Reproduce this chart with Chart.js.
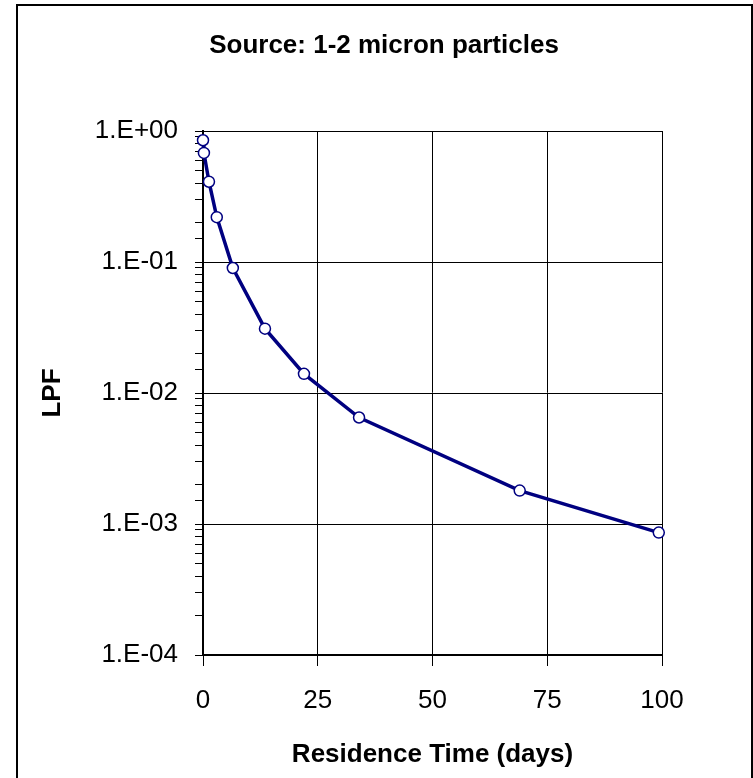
<!DOCTYPE html>
<html>
<head>
<meta charset="utf-8">
<script src="https://cdn.jsdelivr.net/npm/chart.js@4/dist/chart.umd.min.js"></script>
<style>
  html, body { margin: 0; padding: 0; background: #fff; }
  #wrap { position: relative; width: 753px; height: 778px; overflow: hidden; }
  #frame { position: absolute; left: 16px; top: 4px; width: 737px; height: 800px; box-sizing: border-box; border: 2px solid #000; pointer-events: none; }
  canvas { position: absolute; left: 0; top: 0; }
</style>
</head>
<body>
<div id="wrap">
  <canvas id="c" width="753" height="778"></canvas>
  <div id="frame"></div>
</div>
<script>
const chartTitle = "Source: 1-2 micron particles";
const xAxisTitle = "Residence Time (days)";
const yAxisTitle = "LPF";
const residenceDays = [0, 0.2, 1.3, 3, 6.5, 13.5, 22, 34, 69, 99.3];
const lpfValues = [0.85, 0.68, 0.41, 0.22, 0.09, 0.031, 0.014, 0.0065, 0.0018, 0.00086];
const xTicks = [0, 25, 50, 75, 100];
const yDecades = [1e-4, 1e-3, 1e-2, 1e-1, 1];

const FONT = "'Liberation Sans', Arial, sans-serif";

function isDecade(v) {
  const e = Math.round(Math.log10(v));
  return Math.abs(v / Math.pow(10, e) - 1) < 1e-6;
}
function sciLabel(v) {
  const e = Math.round(Math.log10(v));
  const s = e < 0 ? '-' : '+';
  const a = Math.abs(e);
  return '1.E' + s + (a < 10 ? '0' : '') + a;
}

const titlePlugin = {
  id: 'customTitle',
  afterDraw(chart) {
    const ctx = chart.ctx;
    ctx.save();
    ctx.font = 'bold 26px ' + FONT;
    ctx.fillStyle = '#000';
    ctx.textAlign = 'center';
    ctx.textBaseline = 'middle';
    ctx.fillText(chartTitle, 384, 46);
    ctx.restore();
  }
};

const points = residenceDays.map((x, i) => ({ x: x, y: lpfValues[i] }));

new Chart(document.getElementById('c'), {
  type: 'scatter',
  data: {
    datasets: [{
      data: points,
      showLine: true,
      borderColor: '#000080',
      borderWidth: 3.5,
      backgroundColor: '#ffffff',
      pointBackgroundColor: '#ffffff',
      pointBorderColor: '#000080',
      pointBorderWidth: 1.5,
      pointRadius: 5.5,
      tension: 0,
      clip: false
    }]
  },
  options: {
    responsive: false,
    animation: false,
    devicePixelRatio: 1,
    layout: { padding: { top: 131, left: 17, right: 91, bottom: 0 } },
    plugins: { legend: { display: false }, title: { display: false }, tooltip: { enabled: false } },
    scales: {
      x: {
        type: 'linear',
        min: 0, max: 100,
        afterBuildTicks(scale) { scale.ticks = xTicks.map(v => ({ value: v })); },
        afterFit(scale) { scale.height = 123; },
        ticks: {
          color: '#000',
          font: { family: FONT, size: 26 },
          padding: 19,
          maxRotation: 0,
          autoSkip: false
        },
        grid: { color: '#000', lineWidth: 1, tickLength: 11, tickColor: '#000', tickWidth: 1 },
        border: { color: '#000', width: 2 },
        title: {
          display: true, text: xAxisTitle, color: '#000',
          font: { family: FONT, size: 26, weight: 'bold' },
          padding: { top: 0, bottom: 8 }
        }
      },
      y: {
        type: 'logarithmic',
        min: 1e-4, max: 1,
        afterFit(scale) { scale.width = 186; },
        ticks: {
          color: '#000',
          font: { family: FONT, size: 26 },
          padding: 17,
          autoSkip: false,
          callback(v) { return isDecade(v) && yDecades.some(d => Math.abs(d / v - 1) < 1e-6) ? sciLabel(v) : ''; }
        },
        grid: {
          color: ctx => (ctx.tick && isDecade(ctx.tick.value)) ? '#000' : 'rgba(0,0,0,0)',
          lineWidth: 1,
          tickLength: 8,
          tickColor: '#000',
          tickWidth: 1
        },
        border: { color: '#000', width: 2 },
        title: {
          display: true, text: yAxisTitle, color: '#000',
          font: { family: FONT, size: 26, weight: 'bold' },
          padding: { top: 20, bottom: 0 }
        }
      }
    }
  },
  plugins: [titlePlugin]
});
</script>
</body>
</html>
